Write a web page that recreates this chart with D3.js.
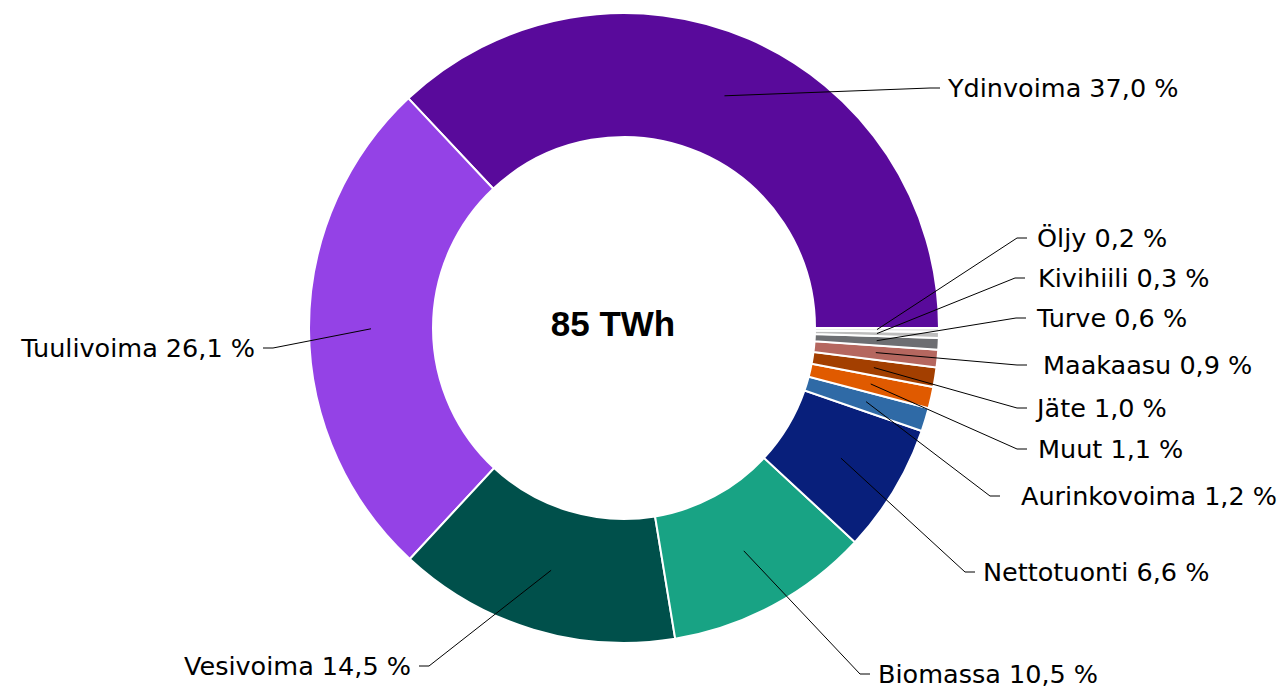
<!DOCTYPE html>
<html>
<head>
<meta charset="utf-8">
<script src="https://cdn.jsdelivr.net/npm/d3@7"></script>
<style>
  html, body { margin: 0; padding: 0; background: #ffffff; }
  svg { display: block; }
</style>
</head>
<body>
<svg id="chart" width="1286" height="689"></svg>
<script>
// ---- data ----
const categories = ["Ydinvoima", "Tuulivoima", "Vesivoima", "Biomassa", "Nettotuonti",
  "Aurinkovoima", "Muut", "Jäte", "Maakaasu", "Turve", "Kivihiili", "Öljy"];
const shares = [37.0, 26.1, 14.5, 10.5, 6.6, 1.2, 1.1, 1.0, 0.9, 0.6, 0.3, 0.2];
const colors = ["#590a9b", "#9442e6", "#00504b", "#18a384", "#081f7b",
  "#2f6aa6", "#e05a00", "#a33f00", "#b5675f", "#6d6e72", "#bdbdbd", "#e6e6e6"];
const totalLabel = "85 TWh";

// ---- layout (label elbow offsets from the donut centre; gap to text) ----
const labelLayout = [
  { dx: 306, dy: -240, gap: 18 },
  { dx: -351, dy: 20, gap: 18 },
  { dx: -195, dy: 338, gap: 18 },
  { dx: 236, dy: 346, gap: 18 },
  { dx: 341, dy: 244, gap: 18 },
  { dx: 366, dy: 168, gap: 31 },
  { dx: 393, dy: 121, gap: 21 },
  { dx: 393, dy: 80, gap: 20 },
  { dx: 393, dy: 37, gap: 26 },
  { dx: 392, dy: -10, gap: 21 },
  { dx: 391, dy: -50, gap: 23 },
  { dx: 393, dy: -90, gap: 20 }
];

const cx = 624, cy = 328, rOuter = 315, rInner = 191;
const svg = d3.select("#chart");
const g = svg.append("g").attr("transform", `translate(${cx},${cy})`);

const data = categories.map((c, i) => ({ name: c, value: shares[i], color: colors[i], layout: labelLayout[i] }));

const pie = d3.pie().value(d => d.value).sort(null)
  .startAngle(Math.PI / 2).endAngle(Math.PI / 2 - 2 * Math.PI);
const arc = d3.arc().innerRadius(rInner).outerRadius(rOuter);
const mid = d3.arc().innerRadius((rInner + rOuter) / 2).outerRadius((rInner + rOuter) / 2);
const arcs = pie(data);

g.selectAll("path.slice").data(arcs).enter().append("path")
  .attr("class", "slice")
  .attr("d", arc)
  .attr("fill", d => d.data.color)
  .attr("stroke", "#ffffff")
  .attr("stroke-width", 2)
  .attr("stroke-linejoin", "miter");

const fmt = v => v.toFixed(1).replace(".", ",") + " %";
const tick = 10;

arcs.forEach(a => {
  const L = a.data.layout;
  const [sx, sy] = mid.centroid(a);
  const right = L.dx > 0;
  const ex = L.dx, ey = L.dy;
  const tx = right ? ex + tick : ex - tick;
  g.append("polyline")
    .attr("points", `${sx},${sy} ${ex},${ey} ${tx},${ey}`)
    .attr("fill", "none")
    .attr("stroke", "#000")
    .attr("stroke-width", 1);
  g.append("text")
    .attr("x", right ? ex + L.gap : ex - L.gap)
    .attr("y", ey)
    .attr("dy", "0.36em")
    .attr("text-anchor", right ? "start" : "end")
    .attr("font-family", "'DejaVu Sans', sans-serif")
    .attr("font-size", 25.5)
    .attr("fill", "#000")
    .text(`${a.data.name} ${fmt(a.data.value)}`);
});

g.append("text")
  .attr("x", -11)
  .attr("y", 8)
  .attr("text-anchor", "middle")
  .attr("font-family", "'Liberation Sans', Arial, sans-serif")
  .attr("font-weight", "bold")
  .attr("font-size", 35)
  .attr("fill", "#000")
  .text(totalLabel);
</script>
</body>
</html>
